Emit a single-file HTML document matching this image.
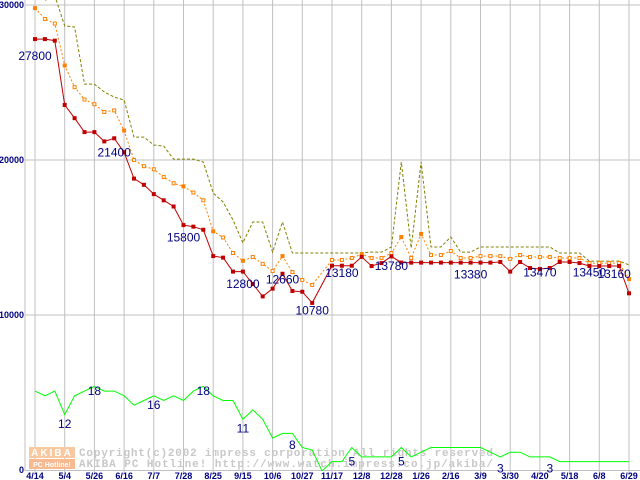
<!DOCTYPE html>
<html><head><meta charset="utf-8"><style>
html,body{margin:0;padding:0;background:#fff;}
svg{display:block;}
text{font-family:"Liberation Sans",sans-serif;}
</style></head><body>
<svg id="chart" width="640" height="480" xmlns="http://www.w3.org/2000/svg">
<defs><clipPath id="plotclip"><rect x="25" y="0" width="615" height="471"/></clipPath></defs>
<g id="grid"></g>
<g id="watermark">
  <rect x="29" y="447" width="46" height="11" fill="#f8c8a0"/>
  <text x="52" y="456" font-size="10" font-weight="bold" fill="#fff" text-anchor="middle" letter-spacing="2">AKIBA</text>
  <rect x="29" y="459" width="46" height="10" fill="#f8b890"/>
  <text x="52" y="467" font-size="7" font-weight="bold" fill="#fff" text-anchor="middle">PC Hotline!</text>
  <text x="79" y="456" font-size="11" font-weight="bold" fill="#c8c8c8" style="font-family:'Liberation Mono',monospace" textLength="414">Copyright(c)2002 impress corporation All rights reserved</text>
  <text x="79" y="467" font-size="11" font-weight="bold" fill="#c8c8c8" style="font-family:'Liberation Mono',monospace" textLength="414">AKIBA PC Hotline!  http://www.watch.impress.co.jp/akiba/</text>
</g>
<g id="series" clip-path="url(#plotclip)"></g>
<g id="labels"></g>
</svg>
<script>
const xLabels=["4/14","5/4","5/26","6/16","7/7","7/28","8/25","9/15","10/6","10/27","11/17","12/8","12/28","1/26","2/16","3/9","3/30","4/20","5/18","6/8","6/29"];
const yTicks=[0,10000,20000,30000];
const lowPrice=[27800,27800,27700,23550,22700,21800,21800,21200,21400,20500,18800,18400,17800,17400,17000,15800,15700,15500,13800,13700,12800,12800,12000,11200,11700,12660,11550,11500,10780,null,13180,13180,13180,13750,13160,13350,13780,13380,13380,13380,13380,13380,13380,13380,13380,13380,13380,13420,12800,13420,13030,12970,13030,13420,13420,13350,13160,13160,13160,13160,11400];
const avgPrice=[29800,29100,28800,26100,24700,23900,23600,23100,23200,21900,20000,19600,19400,18900,18500,18300,17900,17400,15400,15000,14000,13500,13740,13300,12840,13800,12770,12260,11940,null,13550,13550,13680,13930,13680,13680,14000,15030,13680,15230,13870,13870,14130,13680,13680,13800,13800,13800,13620,13870,13740,13740,13740,13680,13680,13680,13350,13350,13350,13350,12320];
const highPrice=[31000,30300,30600,28650,28580,24900,24900,24390,24060,23870,21480,21480,20970,20900,20060,20060,20060,19870,17870,17290,16130,14650,16000,16000,14060,16000,14000,14000,14000,14000,14000,14000,14000,14000,14060,14060,14390,19870,14320,19870,14390,14390,15030,14060,14060,14390,14390,14390,14390,14390,14390,14390,14390,14000,14000,14000,13480,13480,13480,13480,13230];
const shopCount=[17,16,17,12,16,17,18,17,17,16,14,15,16,15,16,15,17,18,16,15,15,11,13,11,7,8,8,5,4.5,0,2,2,5,3,3,3,3,5,3,4,5,5,5,5,5,5,4,3,4,4,3,3,3,2,2,2,2,2,2,2,2];
const filledAvg=[0,3,9,15,18,21,25,33,37,39,60];
const priceLabels=["27800","21400","15800","12800","12660","10780","13180","13780","13380","13470","13450","13160"];
const priceLabelIdx=[0,8,15,21,25,28,31,36,44,51,56,58.5];
const priceLabelVal=[26700,20500,15000,12000,12300,10300,12700,13150,12600,12750,12750,12650];
const countLabels=["12","18","16","18","11","8","5","5","3","3"];
const countLabelIdx=[3,6,12,17,21,26,32,37,47,52];
const countLabelVal=[10,17,14,17,9,5.5,2,2,0.5,0.5];

const NS="http://www.w3.org/2000/svg";
const X0=35,DX=9.9,Y0=470;
const xs=i=>X0+i*DX;
const yP=v=>Y0-v*0.0155;
const yC=v=>471-v*4.7;
function mk(tag,attrs,parent){const e=document.createElementNS(NS,tag);for(const k in attrs)e.setAttribute(k,attrs[k]);parent.appendChild(e);return e;}
const grid=document.getElementById('grid'),ser=document.getElementById('series'),lab=document.getElementById('labels');

for(let k=0;k<xLabels.length;k++){
  const x=X0+k*29.7;
  const l=mk('line',{x1:x,y1:0,x2:x,y2:473,stroke:'#c0c0c0','stroke-width':1},grid);
  
  
  const t=mk('text',{x:x,y:479,'font-size':9,'font-weight':'bold',fill:'#000080','text-anchor':'middle'},lab);
  t.textContent=xLabels[k];
  
  
}
yTicks.forEach(v=>{
  const y=yP(v);
  if(v>0){const l=mk('line',{x1:25,y1:y,x2:640,y2:y,stroke:'#c0c0c0','stroke-width':1},grid);
  
  }
  const t=mk('text',{x:24,y:y+3,'font-size':9,'font-weight':'bold',fill:'#000080','text-anchor':'end'},lab);
  t.textContent=String(v);
  
  
});
const ax=mk('line',{x1:25,y1:0,x2:25,y2:471,stroke:'#c0c0c0'},grid);


const bx=mk('line',{x1:25,y1:470.5,x2:640,y2:470.5,stroke:'#c0c0c0'},grid);



function pts(arr,yf){const p=[];arr.forEach((v,i)=>{if(v!==null)p.push(xs(i).toFixed(1)+','+yf(v).toFixed(1));});return p.join(' ');}
const g=mk('polyline',{points:pts(shopCount,yC),fill:'none',stroke:'#00ff00','stroke-width':1},ser);


const o=mk('polyline',{points:pts(highPrice,yP),fill:'none',stroke:'#808000','stroke-width':1,'stroke-dasharray':'3,2'},ser);


const a=mk('polyline',{points:pts(avgPrice,yP),fill:'none',stroke:'#ff8000','stroke-width':1,'stroke-dasharray':'2,2'},ser);


const r=mk('polyline',{points:pts(lowPrice,yP),fill:'none',stroke:'#c00000','stroke-width':1},ser);


const gap=mk('line',{x1:xs(28),y1:yP(lowPrice[28]),x2:xs(30),y2:yP(lowPrice[30]),stroke:'#c00000','stroke-dasharray':'1,2'},ser);


avgPrice.forEach((v,i)=>{if(v===null)return;
  const f=filledAvg.includes(i);
  const m=mk('rect',{x:xs(i)-1.5,y:yP(v)-1.5,width:3,height:3,fill:f?'#ff8000':'#fff',stroke:'#ff8000','stroke-width':1},ser);
  
  
});
lowPrice.forEach((v,i)=>{if(v===null)return;
  const m=mk('rect',{x:xs(i)-2,y:yP(v)-2,width:4,height:4,fill:'#c00000'},ser);
  
  
});
priceLabels.forEach((s,k)=>{
  const t=mk('text',{x:xs(priceLabelIdx[k]),y:yP(priceLabelVal[k])+4,'font-size':12,fill:'#000080','text-anchor':'middle'},lab);
  t.textContent=s;
  
  
});
countLabels.forEach((s,k)=>{
  const t=mk('text',{x:xs(countLabelIdx[k]),y:yC(countLabelVal[k])+4,'font-size':12,fill:'#000080','text-anchor':'middle'},lab);
  t.textContent=s;
  
  
});
</script>
</body></html>
